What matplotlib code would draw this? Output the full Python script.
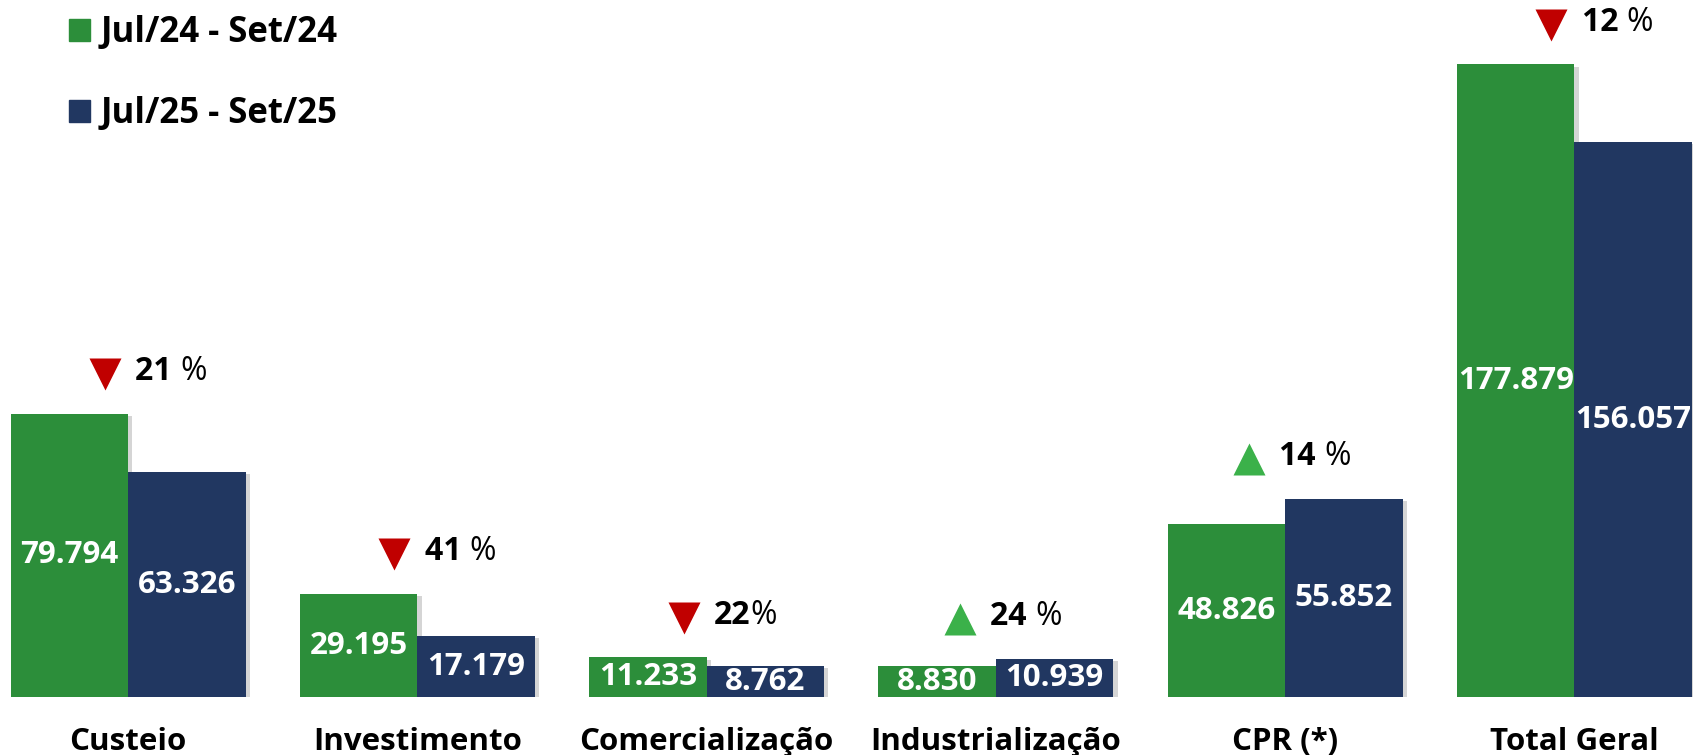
import matplotlib.pyplot as plt
import matplotlib.patheffects as pe
from matplotlib.patches import Patch
import numpy as np

# Dados (milhares) - Jul/Set
categorias = ["Custeio", "Investimento", "Comercialização",
              "Industrialização", "CPR (*)", "Total Geral"]
v_2024 = [79.794, 29.195, 11.233, 8.830, 48.826, 177.879]
v_2025 = [63.326, 17.179, 8.762, 10.939, 55.852, 156.057]
rotulos_2024 = ["79.794", "29.195", "11.233", "8.830", "48.826", "177.879"]
rotulos_2025 = ["63.326", "17.179", "8.762", "10.939", "55.852", "156.057"]
variacao = ["21 %", "41 %", "22%", "24 %", "14 %", "12 %"]
legendas = ["Jul/24 - Set/24", "Jul/25 - Set/25"]

verde = "#2C8E3A"
azul = "#213761"
vermelho = "#C00000"
verde_claro = "#3BB14A"
fonte = "Open Sans"

fig = plt.figure(figsize=(16.93, 7.55), dpi=100)
ax = fig.add_axes([0, 0.0762, 1, 0.9238])

x = np.arange(len(categorias))
w = 0.406
sombra = [pe.SimplePatchShadow(offset=(3, -1.5), shadow_rgbFace="#888888", alpha=0.35), pe.Normal()]

b1 = ax.bar(x - w / 2, v_2024, w, color=verde, zorder=2)
b2 = ax.bar(x + w / 2, v_2025, w, color=azul, zorder=3)
for b in list(b1) + list(b2):
    b.set_path_effects(sombra)

# valores dentro das barras
for i in range(len(categorias)):
    ax.text(x[i] - w / 2, v_2024[i] / 2, rotulos_2024[i], color="white", ha="center", va="center",
            fontsize=22.5, fontweight="bold", family=fonte, zorder=5)
    ax.text(x[i] + w / 2, v_2025[i] / 2, rotulos_2025[i], color="white", ha="center", va="center",
            fontsize=22.5, fontweight="bold", family=fonte, zorder=5)

# setas e variação percentual
for i in range(len(categorias)):
    topo = max(v_2024[i], v_2025[i])
    sobe = v_2025[i] > v_2024[i]
    mx = x[i] - (0.125 if sobe else 0.08)
    my = topo + 11.2
    ax.plot(mx, my, marker="^" if sobe else "v", ms=23,
            color=verde_claro if sobe else vermelho, mec="none", zorder=4)
    num = variacao[i].replace("%", "").strip()
    gap = " " if " " in variacao[i] else ""
    t = ax.text(mx + 0.105, my + 0.6, num + gap, ha="left", va="center",
                fontsize=23, fontweight="bold", family=fonte, color="black")
    ax.annotate("%", xy=(1, 0.5), xycoords=t, ha="left", va="center",
                fontsize=23, family=fonte, color="black")

# categorias
for i, c in enumerate(categorias):
    ax.annotate(c, xy=(x[i], 0), xytext=(0, -37.5), textcoords="offset points",
                ha="center", va="baseline", fontsize=22.5, fontweight="bold",
                family=fonte, color="black", annotation_clip=False)

ax.set_xlim(-0.443, 5.41)
ax.set_ylim(0, 196)
ax.axis("off")

handles = [Patch(color=verde), Patch(color=azul)]
leg = fig.legend(handles, legendas, loc="upper left", bbox_to_anchor=(69 / 1693, 1 - 15 / 755),
                 frameon=False, borderpad=0, borderaxespad=0, handlelength=0.6, handleheight=0.6,
                 handletextpad=0.3, labelspacing=1.3, prop={"family": fonte, "weight": "bold", "size": 25})

fig.savefig("out.png", dpi=100)
